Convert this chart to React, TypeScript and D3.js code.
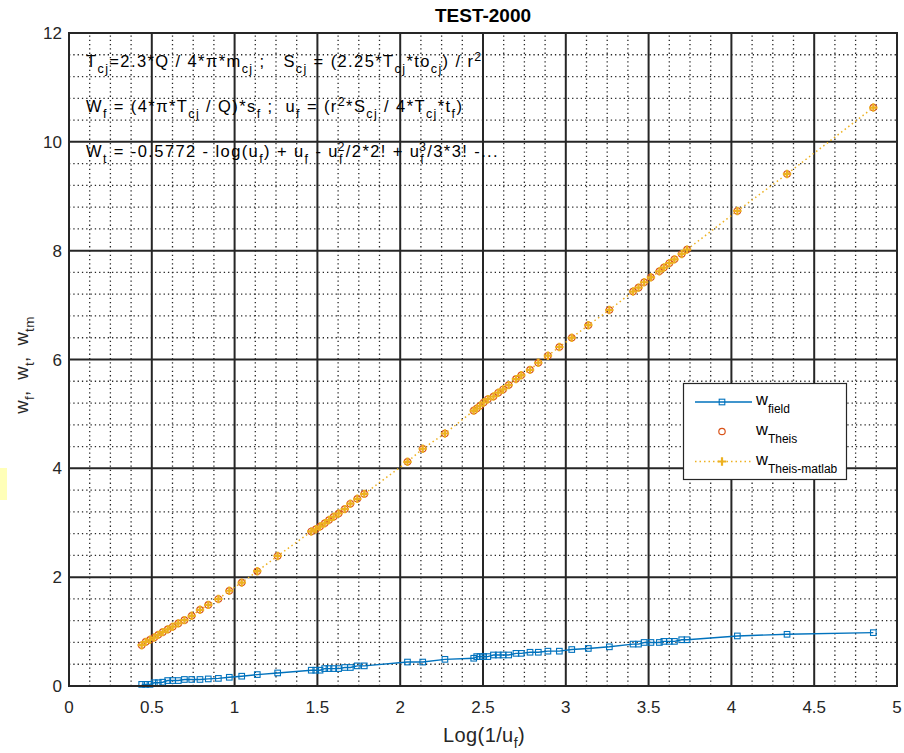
import React, { useEffect, useRef } from 'react';
import * as d3 from 'd3';

// log10(1/u_f) for each reading (shared by all three series)
const logInvU = [
  0.439, 0.463, 0.489, 0.515, 0.539, 0.566, 0.596, 0.626, 0.660, 0.697,
  0.741, 0.791, 0.841, 0.902, 0.968, 1.043, 1.137, 1.260, 1.463, 1.490,
  1.516, 1.544, 1.570, 1.598, 1.628, 1.665, 1.699, 1.741, 1.783, 2.044,
  2.136, 2.270, 2.444, 2.462, 2.482, 2.504, 2.529, 2.563, 2.592, 2.621,
  2.655, 2.699, 2.731, 2.784, 2.834, 2.892, 2.961, 3.036, 3.136, 3.263,
  3.406, 3.439, 3.473, 3.514, 3.565, 3.592, 3.625, 3.656, 3.700, 3.732,
  4.036, 4.336, 4.857,
];

const wField = [
  0.03, 0.03, 0.03, 0.06, 0.06, 0.07, 0.10, 0.10, 0.10, 0.12,
  0.12, 0.12, 0.13, 0.14, 0.16, 0.18, 0.21, 0.24, 0.29, 0.29,
  0.29, 0.32, 0.32, 0.32, 0.32, 0.34, 0.34, 0.37, 0.37, 0.44,
  0.44, 0.49, 0.51, 0.54, 0.54, 0.54, 0.54, 0.57, 0.57, 0.57,
  0.57, 0.60, 0.60, 0.62, 0.62, 0.64, 0.64, 0.67, 0.69, 0.72,
  0.77, 0.77, 0.80, 0.80, 0.80, 0.82, 0.82, 0.82, 0.85, 0.85,
  0.92, 0.95, 0.98,
];

const wTheis = [
  0.75, 0.81, 0.85, 0.89, 0.94, 0.99, 1.04, 1.09, 1.15, 1.21,
  1.29, 1.40, 1.49, 1.60, 1.75, 1.90, 2.11, 2.39, 2.84, 2.88,
  2.93, 2.99, 3.05, 3.11, 3.17, 3.25, 3.35, 3.44, 3.53, 4.12,
  4.36, 4.64, 5.06, 5.10, 5.15, 5.21, 5.27, 5.32, 5.39, 5.45,
  5.53, 5.64, 5.71, 5.81, 5.94, 6.07, 6.23, 6.40, 6.63, 6.91,
  7.25, 7.32, 7.42, 7.51, 7.62, 7.69, 7.77, 7.84, 7.94, 8.02,
  8.73, 9.41, 10.63,
];

// matlab result sits right on top of the Theis one
const wTheisMatlab = wTheis;

const xTicks = [0, 0.5, 1, 1.5, 2, 2.5, 3, 3.5, 4, 4.5, 5];
const yTicks = [0, 2, 4, 6, 8, 10, 12];
const legendNames = ['field', 'Theis', 'Theis-matlab'];

const BLUE = '#0072BD';
const RED = '#D95319';
const YELLOW = '#EDB120';
const INK = '#262626';
const FONT = 'Liberation Sans, Arial, Helvetica, sans-serif';

// n = normal, b = subscript, p = superscript, s = sub+sup stacked ("f|2")
type Seg = [string, 'n' | 'b' | 'p' | 's'];

const eqLines: Seg[][] = [
  [['T', 'n'], ['cj', 'b'], ['=2.3*Q / 4*\u03c0*m', 'n'], ['cj', 'b'], [' ;   S', 'n'], ['cj', 'b'],
    [' = (2.25*T', 'n'], ['cj', 'b'], ['*to', 'n'], ['cj', 'b'], [') / r', 'n'], ['2', 'p']],
  [['W', 'n'], ['f', 'b'], [' = (4*\u03c0*T', 'n'], ['cj', 'b'], [' / Q)*s', 'n'], ['f', 'b'],
    [' ;  u', 'n'], ['f', 'b'], [' = (r', 'n'], ['2', 'p'], ['*S', 'n'], ['cj', 'b'],
    [' / 4*T', 'n'], ['cj', 'b'], ['*t', 'n'], ['f', 'b'], [')', 'n']],
  [['W', 'n'], ['t', 'b'], [' = -0.5772 - log(u', 'n'], ['f', 'b'], [') + u', 'n'], ['f', 'b'],
    [' - u', 'n'], ['f|2', 's'], ['/2*2! + u', 'n'], ['f|3', 's'], ['/3*3! -...', 'n']],
];

type G = d3.Selection<SVGGElement, unknown, null, undefined>;

// tex-like text: only relative dy/dx so the whole thing stays one text chunk
function richText(g: G, x: number, y: number, segs: Seg[], size: number, subSize: number,
  subDy: number, supDy: number, anchor = 'start', spacing = 0) {
  const t = g.append('text')
    .attr('x', x).attr('y', y)
    .attr('font-family', FONT).attr('font-size', size)
    .attr('fill', '#000').attr('text-anchor', anchor)
    .attr('letter-spacing', spacing)
    .style('white-space', 'pre');
  let cur = 0;
  const move = (to: number) => { const d = to - cur; cur = to; return d; };
  segs.forEach(([s, k]) => {
    if (k === 'n') {
      t.append('tspan').attr('dy', move(0)).text(s);
    } else if (k === 'b') {
      t.append('tspan').attr('dy', move(subDy)).attr('font-size', subSize).text(s);
    } else if (k === 'p') {
      t.append('tspan').attr('dy', move(-supDy)).attr('font-size', subSize).text(s);
    } else {
      const [lo, hi] = s.split('|');
      const sub = t.append('tspan').attr('dy', move(subDy)).attr('font-size', subSize).text(lo);
      const w = (sub.node() as SVGTSpanElement).getComputedTextLength() + spacing;
      t.append('tspan').attr('dy', move(-supDy)).attr('dx', -w).attr('font-size', subSize).text(hi);
    }
  });
  return t;
}

export default function App() {
  const svgRef = useRef<SVGSVGElement>(null);

  useEffect(() => {
    const svg = d3.select(svgRef.current);
    if (!svg.node()) return;
    svg.selectAll('*').remove();

    const width = 904, height = 753;
    const margin = { top: 33, right: 7, bottom: 67, left: 69 };
    const x = d3.scaleLinear().domain([0, 5]).range([margin.left, width - margin.right]);
    const y = d3.scaleLinear().domain([0, 12]).range([height - margin.bottom, margin.top]);

    svg.append('rect').attr('width', width).attr('height', height).attr('fill', '#fff');
    // pale strip at the left edge of the screenshot
    svg.append('rect').attr('x', 0).attr('y', 468).attr('width', 7).attr('height', 32).attr('fill', '#FFFFB8');

    const grid = svg.append('g');
    // minor grid (dotted)
    d3.range(0, 5.0001, 0.125).forEach(v => {
      if (Math.abs(v / 0.5 - Math.round(v / 0.5)) < 1e-6) return;
      grid.append('line')
        .attr('x1', x(v)).attr('x2', x(v)).attr('y1', y(0)).attr('y2', y(12))
        .attr('stroke', INK).attr('stroke-width', 1.3).attr('stroke-dasharray', '1.3,3');
    });
    d3.range(0, 12.0001, 0.4).forEach(v => {
      if (Math.abs(v / 2 - Math.round(v / 2)) < 1e-6) return;
      grid.append('line')
        .attr('x1', x(0)).attr('x2', x(5)).attr('y1', y(v)).attr('y2', y(v))
        .attr('stroke', INK).attr('stroke-width', 1.3).attr('stroke-dasharray', '1.3,3');
    });
    // major grid
    xTicks.slice(1, -1).forEach(v => {
      grid.append('line')
        .attr('x1', x(v)).attr('x2', x(v)).attr('y1', y(0)).attr('y2', y(12))
        .attr('stroke', INK).attr('stroke-width', 2);
    });
    yTicks.slice(1, -1).forEach(v => {
      grid.append('line')
        .attr('x1', x(0)).attr('x2', x(5)).attr('y1', y(v)).attr('y2', y(v))
        .attr('stroke', INK).attr('stroke-width', 2);
    });

    // equations
    const eq = svg.append('g');
    eqLines.forEach((segs, i) => {
      richText(eq, 86, 67 + i * 45, segs, 16.5, 12.5, 6, 6, 'start', 1.4);
    });

    const pts = logInvU.map((v, i) => ({ x: v, f: wField[i], t: wTheis[i], m: wTheisMatlab[i] }));
    type P = typeof pts[0];
    const data = svg.append('g');

    // field: line + square markers
    data.append('path')
      .attr('d', d3.line<P>().x(d => x(d.x)).y(d => y(d.f))(pts) || '')
      .attr('fill', 'none').attr('stroke', BLUE).attr('stroke-width', 1.4);
    data.selectAll('rect.f').data(pts).join('rect')
      .attr('x', d => x(d.x) - 2.8).attr('y', d => y(d.f) - 2.8)
      .attr('width', 5.6).attr('height', 5.6)
      .attr('fill', 'none').attr('stroke', BLUE).attr('stroke-width', 1.1);

    // Theis: circles
    data.selectAll('circle.t').data(pts).join('circle')
      .attr('cx', d => x(d.x)).attr('cy', d => y(d.t)).attr('r', 3.2)
      .attr('fill', 'none').attr('stroke', RED).attr('stroke-width', 1.2);

    // matlab: dotted line + plus markers
    data.append('path')
      .attr('d', d3.line<P>().x(d => x(d.x)).y(d => y(d.m))(pts) || '')
      .attr('fill', 'none').attr('stroke', YELLOW).attr('stroke-width', 1.5)
      .attr('stroke-dasharray', '1.5,3');
    data.selectAll('path.m').data(pts).join('path')
      .attr('transform', d => `translate(${x(d.x)},${y(d.m)})`)
      .attr('d', 'M-4.2,0H4.2M0,-4.2V4.2')
      .attr('stroke', YELLOW).attr('stroke-width', 2.2).attr('fill', 'none');

    // axes box
    svg.append('rect')
      .attr('x', x(0)).attr('y', y(12)).attr('width', x(5) - x(0)).attr('height', y(0) - y(12))
      .attr('fill', 'none').attr('stroke', INK).attr('stroke-width', 2);

    // tick labels
    const fmt = d3.format('~g');
    svg.append('g').selectAll('text').data(xTicks).join('text')
      .attr('x', d => x(d)).attr('y', y(0) + 27)
      .attr('text-anchor', 'middle').attr('font-family', FONT).attr('font-size', 17)
      .attr('fill', INK).text(d => fmt(d));
    svg.append('g').selectAll('text').data(yTicks).join('text')
      .attr('x', x(0) - 7).attr('y', d => y(d) + 6)
      .attr('text-anchor', 'end').attr('font-family', FONT).attr('font-size', 17)
      .attr('fill', INK).text(d => d);

    // title
    svg.append('text')
      .attr('x', (x(0) + x(5)) / 2).attr('y', 22)
      .attr('text-anchor', 'middle').attr('font-family', FONT).attr('font-size', 19)
      .attr('font-weight', 'bold').attr('fill', '#000').text('TEST-2000');

    // axis labels
    const lab = svg.append('g');
    richText(lab, (x(0) + x(5)) / 2 + 1, 742, [['Log(1/u', 'n'], ['f', 'b'], [')', 'n']],
      20, 14, 6, 6, 'middle', 0.4).attr('fill', INK);
    const yl = lab.append('g').attr('transform', `translate(28,365) rotate(-90)`);
    richText(yl, 0, 0, [['w', 'n'], ['f', 'b'], [',  w', 'n'], ['t', 'b'], [',  w', 'n'], ['tm', 'b']],
      18.5, 13.5, 6, 6, 'middle', 0.3).attr('fill', INK);

    // legend
    const lg = svg.append('g');
    lg.append('rect').attr('x', 683.5).attr('y', 383.5).attr('width', 163).attr('height', 96)
      .attr('fill', '#fff').attr('stroke', INK).attr('stroke-width', 1.2);
    const lx0 = 695, lx1 = 752, lmx = 722;
    const rows = [402, 431.5, 461.5];
    lg.append('line').attr('x1', lx0).attr('x2', lx1).attr('y1', rows[0]).attr('y2', rows[0])
      .attr('stroke', BLUE).attr('stroke-width', 1.4);
    lg.append('rect').attr('x', lmx - 2.8).attr('y', rows[0] - 2.8).attr('width', 5.6).attr('height', 5.6)
      .attr('fill', 'none').attr('stroke', BLUE).attr('stroke-width', 1.1);
    lg.append('circle').attr('cx', lmx).attr('cy', rows[1]).attr('r', 3.2)
      .attr('fill', 'none').attr('stroke', RED).attr('stroke-width', 1.2);
    lg.append('line').attr('x1', lx0).attr('x2', lx1).attr('y1', rows[2]).attr('y2', rows[2])
      .attr('stroke', YELLOW).attr('stroke-width', 1.5).attr('stroke-dasharray', '1.5,3');
    lg.append('path').attr('transform', `translate(${lmx},${rows[2]})`).attr('d', 'M-4.2,0H4.2M0,-4.2V4.2')
      .attr('stroke', YELLOW).attr('stroke-width', 2.2);
    legendNames.forEach((n, i) => {
      richText(lg, 756, rows[i] + 3, [['w', 'n'], [n, 'b']], 16.5, 12, 8, 6);
    });
  }, []);

  return (
    <svg
      ref={svgRef}
      width={904}
      height={753}
      style={{ position: 'absolute', left: 0, top: 0, display: 'block' }}
    />
  );
}
